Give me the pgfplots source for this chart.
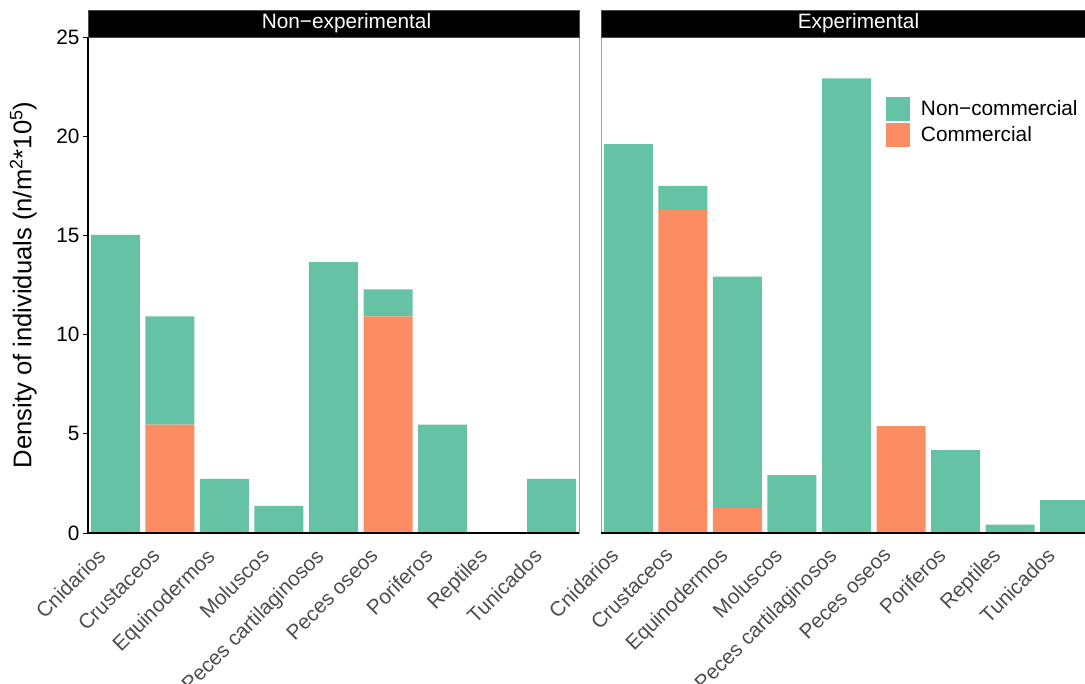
\documentclass[border=0pt]{standalone}
\usepackage{pgfplots}
\pgfplotsset{compat=1.18}
\usepackage{fontspec}
\setmainfont{Liberation Sans}
\definecolor{nc}{HTML}{66C2A5}
\definecolor{co}{HTML}{FC8D62}
\definecolor{lab}{HTML}{4D4D4D}
\newcommand{\fs}{\fontsize{20.8}{24}\selectfont}
\pgfplotsset{
  panel/.style={
    scale only axis, width=491pt, height=496pt,
    anchor=south west,
    xmin=-0.5, xmax=8.5, ymin=0, ymax=25,
    ybar stacked, bar width=49pt,
    xtick={0,...,8},
    xticklabels={Cnidarios,Crustaceos,Equinodermos,Moluscos,Peces cartilaginosos,Peces oseos,Poriferos,Reptiles,Tunicados},
    x tick label style={rotate=45, anchor=north east, font=\fs, text=lab, inner sep=1pt, yshift=8.4pt, xshift=-18.7pt},
    xtick style={draw=none},
    axis line style={draw=gray!75, line width=0.8pt},
    clip=false,
    /pgf/number format/assume math mode=true,
    tick align=outside,
  },
}
\begin{document}
\begin{tikzpicture}
\useasboundingbox (0pt,0pt) rectangle (1085pt,684pt);
\clip (0pt,0pt) rectangle (1085pt,684pt);
% left panel
\begin{axis}[panel, name=L, at={(88pt,151pt)},
  ytick={0,5,10,15,20,25},
  ytick pos=left,
  y tick label style={font=\fs, text=black},
  ytick style={black, line width=0.9pt},
  major tick length=5pt,
  ylabel={Density of individuals (n/m\textsuperscript{2}*10\textsuperscript{5})},
  ylabel style={font=\fontsize{25.6}{30}\selectfont, at={(axis description cs:-0.104,0.5)}, anchor=south, inner sep=0pt},
]
\addplot[fill=co, draw=none] coordinates {(0,0) (1,5.46) (2,0) (3,0) (4,0) (5,10.92) (6,0) (7,0) (8,0)};
\addplot[fill=nc, draw=none] coordinates {(0,15.02) (1,5.46) (2,2.73) (3,1.365) (4,13.65) (5,1.365) (6,5.46) (7,0) (8,2.73)};
\end{axis}
% right panel
\begin{axis}[panel, name=R, at={(601pt,151pt)},
  ytick=\empty,
  legend style={at={(rel axis cs:0.58,0.879)}, anchor=north west, draw=none, fill=none,
    font=\fs, row sep=2pt, column sep=9pt, inner sep=0pt, cells={anchor=west}},
  legend image code/.code={\fill[#1] (0pt,-12pt) rectangle (24pt,12pt);},
  reverse legend,
]
\addplot[fill=co, draw=none] coordinates {(0,0) (1,16.28) (2,1.26) (3,0) (4,0) (5,5.39) (6,0) (7,0) (8,0)};
\addplot[fill=nc, draw=none] coordinates {(0,19.6) (1,1.22) (2,11.66) (3,2.92) (4,22.92) (5,0) (6,4.18) (7,0.42) (8,1.66)};
\legend{Commercial,Non−commercial}
\end{axis}
% axis lines on top
\draw[black, line width=1.4pt] (L.north west) -- (L.south west) -- (L.south east);
\draw[black, line width=1.4pt] (R.south west) -- (R.south east);
% strips
\draw[fill=black, draw=gray!60!black, line width=0.8pt] (L.north west) rectangle ([yshift=27pt]L.north east);
\draw[fill=black, draw=gray!60!black, line width=0.8pt] (R.north west) rectangle ([yshift=27pt]R.north east);
\node[text=white, font=\fs] at ([xshift=13pt,yshift=13.5pt]L.north) {Non−experimental};
\node[text=white, font=\fs] at ([xshift=12pt,yshift=13.5pt]R.north) {Experimental};
\end{tikzpicture}
\end{document}
